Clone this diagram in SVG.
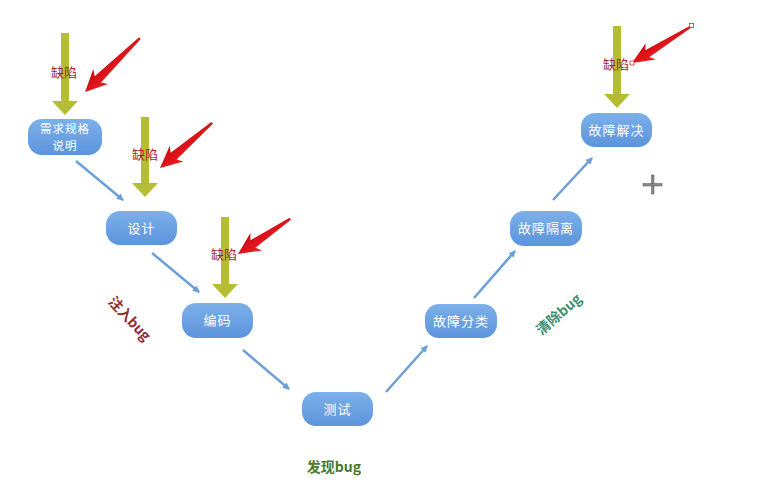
<svg xmlns="http://www.w3.org/2000/svg" width="770" height="480" viewBox="0 0 770 480">
  <defs>
    <linearGradient id="nodeFill" x1="0" y1="0" x2="0" y2="1">
      <stop offset="0" stop-color="#7cb0ea"/>
      <stop offset="1" stop-color="#5c94dc"/>
    </linearGradient>
    <linearGradient id="redFill" x1="0" y1="0" x2="0" y2="1">
      <stop offset="0" stop-color="#f01c22"/>
      <stop offset="1" stop-color="#c80c12"/>
    </linearGradient>
    <marker id="blueHead" markerWidth="8" markerHeight="8" refX="6" refY="4" orient="auto" markerUnits="userSpaceOnUse">
      <path d="M0,0.5 L7,4 L0,7.5 Z" fill="#6c9fd8"/>
    </marker>
  </defs>
  <style>
    .node rect { fill: url(#nodeFill); }
    .node text { font-family: "Noto Sans CJK SC", "Liberation Serif", serif; font-size: 13px; fill: #ffffff; text-anchor: middle; letter-spacing: 1px; }
    .node text.small { font-size: 11.5px; }
    .flow line { stroke: #6c9fd8; stroke-width: 2.5; marker-end: url(#blueHead); }
    .defect { fill: #b5bd35; }
    .hit { fill: url(#redFill); }
    .defectLabel { font-family: "Noto Sans CJK SC", "Liberation Serif", serif; font-size: 13px; fill: #a3262c; text-anchor: middle; }
    .phase { font-family: "Noto Sans CJK SC", "Liberation Sans", sans-serif; font-size: 14px; font-weight: bold; text-anchor: middle; }
  </style>

  <rect width="770" height="480" fill="#ffffff"/>

  <!-- defects entering: thick olive arrows -->
  <g id="defect-arrows">
    <path class="defect" d="M61,33 H69 V101 H78 L65,115 L52,101 H61 Z"/>
    <path class="defect" d="M141,117 H149 V183 H158 L145,197 L132,183 H141 Z"/>
    <path class="defect" d="M221,217 H229 V284 H238 L225,298 L212,284 H221 Z"/>
    <path class="defect" d="M613,26 H621 V94 H630 L617,108 L604,94 H613 Z"/>
  </g>

  <!-- red pointers onto each defect label -->
  <g id="pointer-arrows">
    <path class="hit" transform="translate(85,92) rotate(135.5)" d="M0,0 L-22,-10.5 L-18,-4.5 L-77,-1.2 L-77,1.2 L-18,4.5 L-22,10.5 Z"/>
    <path class="hit" transform="translate(160,168) rotate(139.1)" d="M0,0 L-22,-10.5 L-18,-4.5 L-69,-1.2 L-69,1.2 L-18,4.5 L-22,10.5 Z"/>
    <path class="hit" transform="translate(238,254) rotate(146)" d="M0,0 L-22,-10.5 L-18,-4.5 L-63,-1.2 L-63,1.2 L-18,4.5 L-22,10.5 Z"/>
    <path class="hit" transform="translate(632,63) rotate(148.3)" d="M0,0 L-22,-9.5 L-18,-4 L-70,-1 L-70,1 L-18,4 L-22,9.5 Z"/>
    <rect x="689.5" y="23.5" width="4" height="4" fill="#ffffff" stroke="#d03030" stroke-width="0.8"/>
    <rect x="630" y="61" width="4" height="4" fill="#ffffff" stroke="#d03030" stroke-width="0.8"/>
  </g>

  <g id="defect-labels">
    <text class="defectLabel" x="64" y="77">缺陷</text>
    <text class="defectLabel" x="145" y="159">缺陷</text>
    <text class="defectLabel" x="224" y="259">缺陷</text>
    <text class="defectLabel" x="616" y="69">缺陷</text>
  </g>

  <!-- process connectors -->
  <g id="connectors" class="flow">
    <line x1="76" y1="161" x2="123" y2="200"/>
    <line x1="152" y1="253" x2="199" y2="292"/>
    <line x1="243" y1="350" x2="289" y2="389"/>
    <line x1="386" y1="392" x2="427" y2="346"/>
    <line x1="474" y1="298" x2="515" y2="251"/>
    <line x1="553" y1="200" x2="592" y2="158"/>
  </g>

  <!-- process steps -->
  <g id="n-requirements" class="node">
    <rect x="28" y="119" width="74" height="36" rx="14"/>
    <text class="small" x="65" y="133">需求规格</text>
    <text class="small" x="65" y="150">说明</text>
  </g>
  <g id="n-design" class="node">
    <rect x="106" y="211" width="71" height="34" rx="14"/>
    <text x="141.5" y="233">设计</text>
  </g>
  <g id="n-coding" class="node">
    <rect x="182" y="303" width="71" height="35" rx="14"/>
    <text x="217.5" y="325">编码</text>
  </g>
  <g id="n-testing" class="node">
    <rect x="302" y="392" width="71" height="34" rx="14"/>
    <text x="337.5" y="414">测试</text>
  </g>
  <g id="n-classify" class="node">
    <rect x="425" y="304" width="72" height="34" rx="14"/>
    <text x="461" y="326">故障分类</text>
  </g>
  <g id="n-isolate" class="node">
    <rect x="510" y="211" width="72" height="35" rx="14"/>
    <text x="546" y="233">故障隔离</text>
  </g>
  <g id="n-resolve" class="node">
    <rect x="581" y="113" width="71" height="34" rx="14"/>
    <text x="616.5" y="135">故障解决</text>
  </g>

  <!-- phase labels -->
  <g id="phase-labels">
    <text class="phase" fill="#8e2a2e" transform="translate(126,322) rotate(47)">注入bug</text>
    <text class="phase" fill="#3f8f74" transform="translate(562,318) rotate(-41)">清除bug</text>
    <text class="phase" fill="#4a7a2a" x="334" y="472">发现bug</text>
  </g>

  <!-- cursor cross -->
  <g id="cursor">
    <rect x="651.5" y="175" width="2.5" height="19" fill="#8a8a8a" stroke="#555555" stroke-width="0.5"/>
    <rect x="643" y="183.5" width="19" height="2.5" fill="#8a8a8a" stroke="#555555" stroke-width="0.5"/>
  </g>
</svg>
